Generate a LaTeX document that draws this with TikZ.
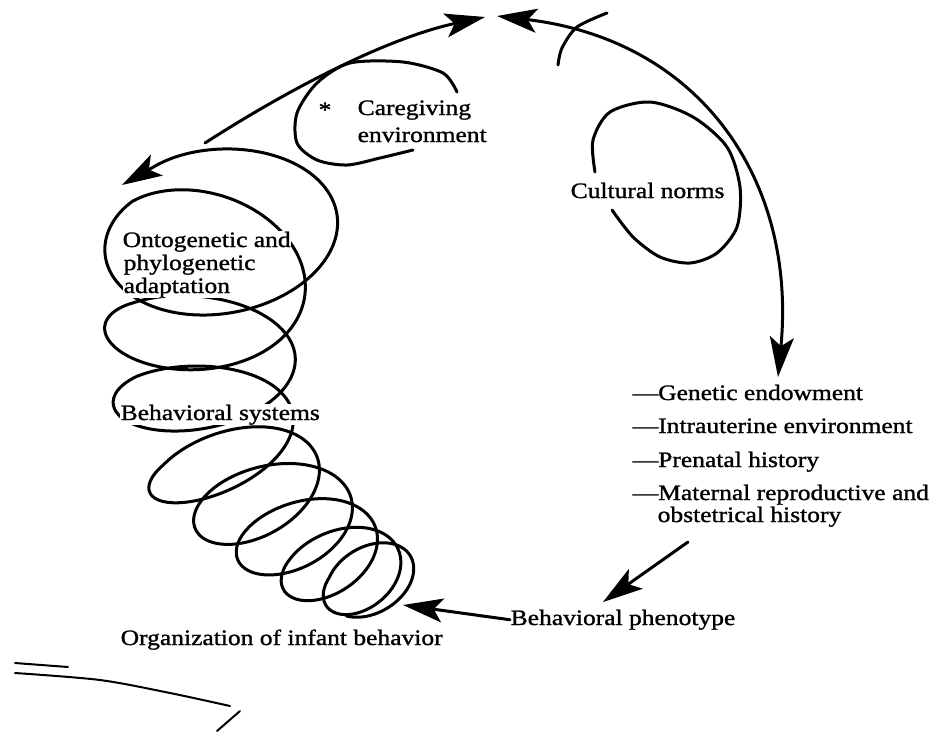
\documentclass[tikz,border=0pt]{standalone}
\usepackage{fontspec}
\setmainfont{Liberation Serif}[FakeStretch=1.16,FakeBold=1.2]
\usetikzlibrary{arrows.meta}
\begin{document}
\begin{tikzpicture}[x=1pt,y=-1pt,
  lbl/.style={font=\fontsize{22}{24}\selectfont, inner sep=0.5pt, anchor=base west},
  wlbl/.style={lbl, fill=white},
  ln/.style={line width=3pt, line cap=round, line join=round},
  arr/.style={ln, -{Stealth[length=40pt,width=24pt,inset=9pt]}},
  darr/.style={ln, {Stealth[length=40pt,width=24pt,inset=9pt]}-{Stealth[length=40pt,width=24pt,inset=9pt]}},
  scan/.style={line width=2pt, line cap=round},
  declare function={lrp(\p,\q,\s)=(\p)+((\q)-(\p))*(\s);}
]
\useasboundingbox (0,0) rectangle (935,732);

% ---- coil (spiral) ----
\foreach \ax/\ay/\aa/\ab/\at/\bx/\by/\ba/\bb/\bt/\te in {
  240/210/115/65/0/205/258/103/80/0/1,
  205/258/103/80/0/203/338/98/50/0/1,
  203/338/98/50/0/200/405/86/48/-5/1,
  200/405/86/48/-5/228/470/80/44/-24/1,
  228/470/80/44/-24/270/505/74/45/-18/1,
  270/505/74/45/-18/304/538/66/42/-20/1,
  304/538/66/42/-20/338/565/56/38/-26/1,
  338/565/56/38/-26/370/580/47/33/-31/1,
  370/580/47/33/-31/370/580/47/33/-31/0.78}{
  \draw[ln] plot[smooth, samples=60, domain=0:\te, variable=\t]
   ({lrp(\ax,\bx,\t) + lrp(\aa,\ba,\t)*cos(-135+360*\t)*cos(lrp(\at,\bt,\t)) - lrp(\ab,\bb,\t)*sin(-135+360*\t)*sin(lrp(\at,\bt,\t))},
    {lrp(\ay,\by,\t) + lrp(\aa,\ba,\t)*cos(-135+360*\t)*sin(lrp(\at,\bt,\t)) + lrp(\ab,\bb,\t)*sin(-135+360*\t)*cos(lrp(\at,\bt,\t))});
}
\coordinate (cs) at (158.7,164);
\coordinate (ctip) at (122,185);
\draw[arr] (cs) -- (ctip);

% ---- loops ----
\draw[ln] plot[smooth] coordinates {(457,92) (443,73) (403,62) (350,63) (317,83) (297,113) (297,143) (317,160) (347,165) (380,158) (413,150)};
\draw[ln] plot[smooth] coordinates {(595,172) (593,140) (610,112) (650,102) (693,117) (727,147) (740,187) (737,227) (717,253) (690,263) (660,257) (633,237) (612,210)};

% ---- labels ----
\node[lbl] (care) at (357,115) {Caregiving};
\node[lbl] (env) at (357,142) {environment};
\node[lbl, anchor=base] (ast) at (325,117) {*};
\node[lbl] (cult) at (570,198) {Cultural norms};
\node[wlbl] (onto) at (122,247) {Ontogenetic and};
\node[wlbl] (phyl) at (123,270) {phylogenetic};
\node[wlbl] (adap) at (123,293) {adaptation};
\node[wlbl] (bsys) at (120,420) {Behavioral systems};
\node[lbl] (org) at (120,645) {Organization of infant behavior};
\node[lbl] (phen) at (510,625) {Behavioral phenotype};
\node[lbl] (gen) at (632,400) {—Genetic endowment};
\node[lbl] (intra) at (632,433) {—Intrauterine environment};
\node[lbl] (pren) at (632,467) {—Prenatal history};
\node[lbl] (mat) at (632,500) {—Maternal reproductive and};
\node[lbl] (obst) at (657,522) {obstetrical history};

% ---- arrows ----
\coordinate (l1) at (205,143);
\coordinate (l2) at (485,17);
\draw[arr] (l1) .. controls (289,89) and (387,38) .. (l2);
\coordinate (r1) at (497,16);
\coordinate (r2) at (778,377);
\draw[darr] (r1) .. controls (700,40) and (797,180) .. (r2);
\coordinate (c1) at (688,542);
\coordinate (c2) at (603,602);
\draw[arr] (c1) -- (c2);
\coordinate (d2) at (403,605);
\draw[arr] (phen.west) -- (d2);

% ---- stray marks ----
\draw[ln] plot[smooth] coordinates {(607,13) (577,27) (562,48) (558,65)};
\draw[scan] (15,663) -- (68,667);
\draw[scan] plot[smooth] coordinates {(15,673) (100,680) (170,693) (230,706)};
\draw[scan] (240,711) -- (217,731);
\end{tikzpicture}
\end{document}
